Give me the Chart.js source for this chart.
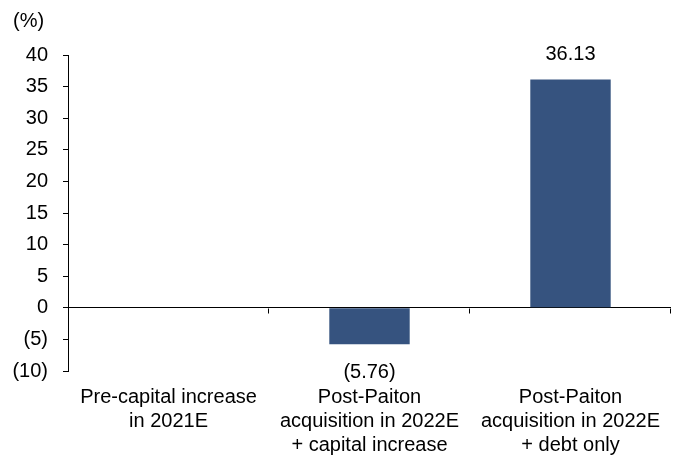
<!DOCTYPE html>
<html>
<head>
<meta charset="utf-8">
<script src="https://cdn.jsdelivr.net/npm/chart.js@4.4.1/dist/chart.umd.min.js"></script>
<style>
  html, body { margin: 0; padding: 0; background: #fff; }
  #wrap { width: 682px; height: 459px; }
</style>
</head>
<body>
<div id="wrap"><canvas id="myChart"></canvas></div>
<script>
// categories and values (%)
var categories = [
    ["Pre-capital increase", "in 2021E"],
    ["Post-Paiton", "acquisition in 2022E", "+ capital increase"],
    ["Post-Paiton", "acquisition in 2022E", "+ debt only"]
];
var values = [null, -5.76, 36.13];
var yTicks = [-10, -5, 0, 5, 10, 15, 20, 25, 30, 35, 40];

var fontFamily = "'Liberation Sans', Arial, sans-serif";
var fontSize = 20;

function fmt(v) {
    return v < 0 ? '(' + (-v) + ')' : String(v);
}

// tick marks on the zero line between categories, value labels and unit
var extras = {
    id: 'extras',
    afterDatasetsDraw: function (chart) {
        var ctx = chart.ctx;
        var x = chart.scales.x, y = chart.scales.y;
        var y0 = Math.round(y.getPixelForValue(0)) + 0.5;
        ctx.save();
        ctx.strokeStyle = '#000';
        ctx.lineWidth = 1;
        for (var i = 1; i <= categories.length; i++) {
            var px = Math.round(x.left + i * (x.right - x.left) / categories.length) - 0.5;
            ctx.beginPath();
            ctx.moveTo(px, y0);
            ctx.lineTo(px, y0 + 5);
            ctx.stroke();
        }
        ctx.fillStyle = '#000';
        ctx.font = fontSize + 'px ' + fontFamily;
        ctx.textAlign = 'center';
        ctx.textBaseline = 'middle';
        var meta = chart.getDatasetMeta(0);
        values.forEach(function (v, i) {
            if (v === null) return;
            var bar = meta.data[i];
            var ly = v >= 0 ? bar.y - 25 : bar.y + 28;
            ctx.fillText(fmt(v.toFixed(2) * 1), bar.x, ly);
        });
        ctx.textAlign = 'left';
        ctx.fillText('(%)', 13, 21);
        ctx.restore();
    }
};

var ctx = document.getElementById("myChart").getContext("2d");
var myChart = new Chart(ctx, {
    type: 'bar',
    data: {
        labels: categories,
        datasets: [{
            data: values,
            backgroundColor: '#36537f',
            borderWidth: 0,
            categoryPercentage: 1,
            barPercentage: 0.4
        }]
    },
    options: {
        responsive: true,
        maintainAspectRatio: false,
        animation: false,
        layout: { padding: { top: 55, left: 13, right: 11, bottom: 2 } },
        plugins: {
            legend: { display: false },
            tooltip: { enabled: false }
        },
        scales: {
            x: {
                afterFit: function (scale) { scale.height = 86; },
                grid: { display: false },
                border: { display: false },
                ticks: {
                    color: '#000',
                    font: { family: fontFamily, size: fontSize, lineHeight: 1.2 },
                    padding: 6,
                    maxRotation: 0,
                    autoSkip: false
                }
            },
            y: {
                min: -10,
                max: 40,
                afterFit: function (scale) { scale.width = 55; },
                afterBuildTicks: function (scale) {
                    scale.ticks = yTicks.map(function (v) { return { value: v }; });
                },
                grid: {
                    color: function (c) { return c.tick && c.tick.value === 0 ? '#000' : 'rgba(0,0,0,0)'; },
                    tickColor: '#000',
                    tickLength: 5,
                    lineWidth: 1
                },
                border: { display: true, color: '#000' },
                ticks: {
                    color: '#000',
                    font: { family: fontFamily, size: fontSize },
                    padding: 15,
                    callback: function (v) { return fmt(v); }
                }
            }
        }
    },
    plugins: [extras]
});
</script>
</body>
</html>
